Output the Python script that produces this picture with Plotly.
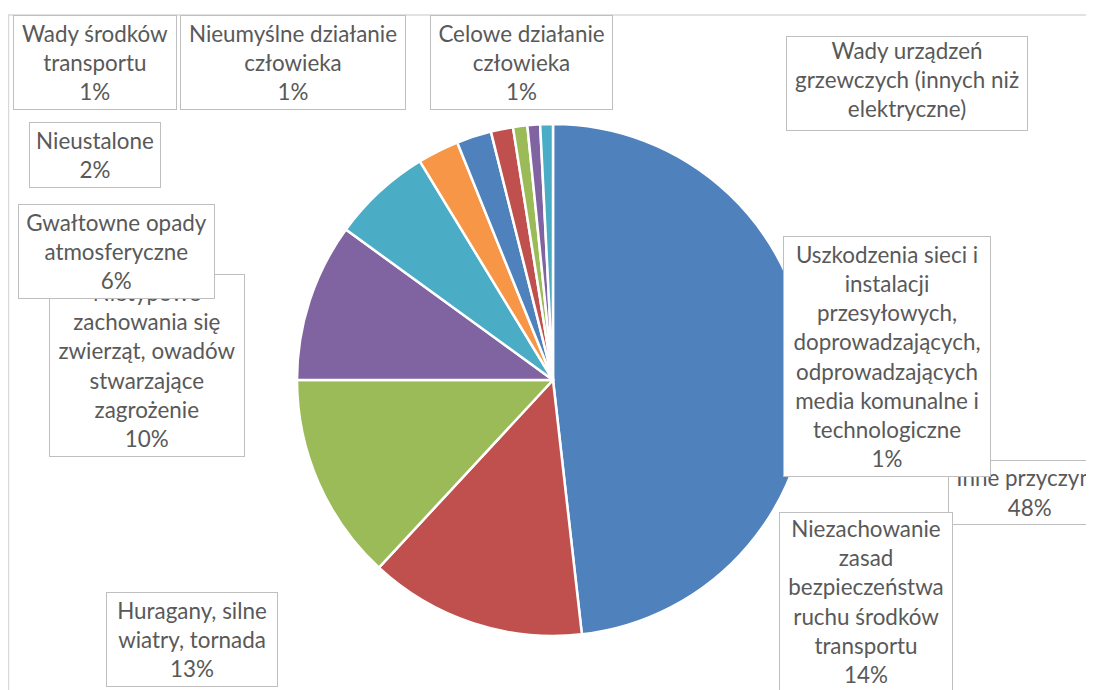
import plotly.graph_objects as go

# ---- data ----
categories = [
    "Inne przyczyny",
    "Niezachowanie<br>zasad<br>bezpieczeństwa<br>ruchu środków<br>transportu",
    "Huragany, silne<br>wiatry, tornada",
    "Nietypowe<br>zachowania się<br>zwierząt, owadów<br>stwarzające<br>zagrożenie",
    "Gwałtowne opady<br>atmosferyczne",
    "Wady urządzeń<br>grzewczych (innych niż<br>elektryczne)",
    "Nieustalone",
    "Wady środków<br>transportu",
    "Nieumyślne działanie<br>człowieka",
    "Celowe działanie<br>człowieka",
    "Uszkodzenia sieci i<br>instalacji<br>przesyłowych,<br>doprowadzających,<br>odprowadzających<br>media komunalne i<br>technologiczne",
]
values = [48.2, 13.7, 13.1, 10.0, 6.3, 2.6, 2.2, 1.4, 0.9, 0.8, 0.8]
colors = ["#4F81BD", "#C0504D", "#9BBB59", "#8064A2", "#4BACC6", "#F79646",
          "#4F81BD", "#C0504D", "#9BBB59", "#8064A2", "#4BACC6"]

# ---- layout (pixel positions as seen in the page; page body adds an 8px offset) ----
W, H = 1094, 690
OFF = 8
# label boxes: left, top, right, bottom, valign, percentage visible in its box
boxes = {
    0: (948, 460, 1112, 525, "middle", True),
    3: (49, 274, 245, 457, "middle", True),
    1: (779, 512, 953, 691, "middle", True),
    2: (106, 592, 278, 687, "middle", True),
    4: (18, 204, 215, 299, "middle", True),
    5: (786, 36, 1028, 131, "top", False),
    6: (29, 122, 161, 188, "middle", True),
    7: (13, 15, 177, 110, "middle", True),
    8: (180, 15, 406, 110, "middle", True),
    9: (430, 15, 613, 110, "middle", True),
    10: (783, 236, 991, 477, "middle", True),
}
draw_order = [0, 3, 1, 2, 4, 5, 6, 7, 8, 9, 10]

cx, cy, r = 553 - OFF, 380 - OFF, 256

fig = go.Figure()
fig.add_trace(go.Pie(
    labels=[c.replace("<br>", " ") for c in categories],
    values=values,
    sort=False,
    direction="clockwise",
    rotation=0,
    marker=dict(colors=colors, line=dict(color="white", width=2.5)),
    textinfo="none",
    hoverinfo="label+percent",
    showlegend=False,
    domain=dict(x=[(cx - r) / W, (cx + r) / W],
                y=[(H - cy - r) / H, (H - cy + r) / H]),
))

total = sum(values)
annotations = []
for i in draw_order:
    x0, y0, x1, y1, va, show_pct = boxes[i]
    x0, x1, y0, y1 = x0 - OFF, x1 - OFF, y0 - OFF, y1 - OFF
    pct = round(values[i] / total * 100)
    txt = f"{categories[i]}<br>{pct}%" if show_pct else categories[i]
    annotations.append(dict(
        x=(x0 + x1) / 2 / W, y=1 - (y0 + y1) / 2 / H, xref="paper", yref="paper",
        xanchor="center", yanchor="middle",
        text=txt,
        showarrow=False, align="center", valign=va,
        width=x1 - x0 - 2, height=y1 - y0 - 2,
        bgcolor="white", bordercolor="#BFBFBF", borderwidth=1, borderpad=0,
        font=dict(family="Lato", size=22.4, color="#595959"),
    ))

fig.update_layout(
    width=W, height=H,
    margin=dict(l=0, r=0, t=0, b=0),
    paper_bgcolor="white", plot_bgcolor="white",
    annotations=annotations,
    shapes=[dict(type="rect", xref="paper", yref="paper",
                 x0=(8.5 - OFF) / W, x1=1.05, y0=-0.05, y1=1 - (15 - OFF) / H,
                 line=dict(color="#D9D9D9", width=1.5), layer="below")],
)

fig.write_html("out.html")
